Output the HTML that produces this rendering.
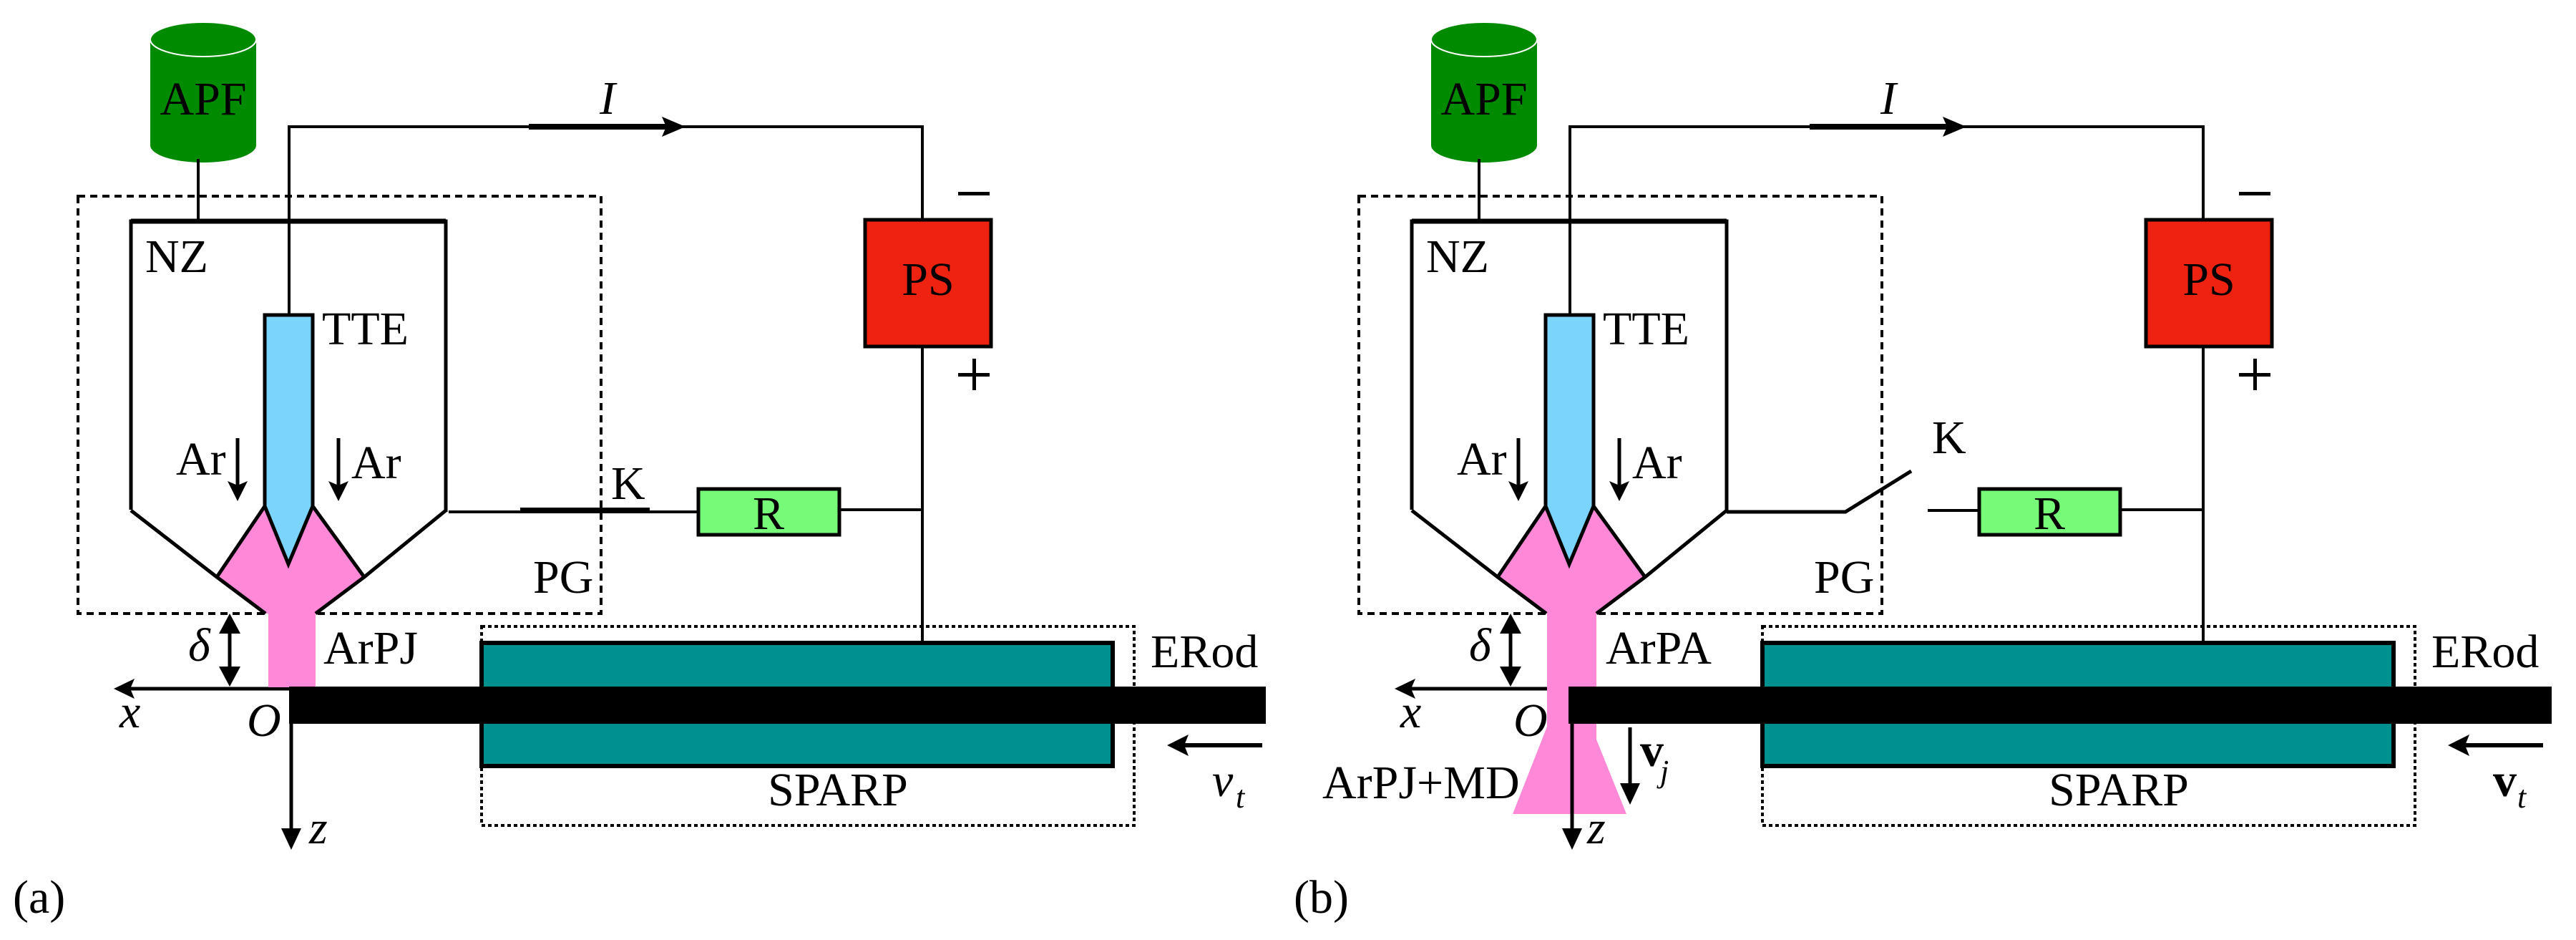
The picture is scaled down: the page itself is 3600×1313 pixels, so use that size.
<!DOCTYPE html>
<html><head><meta charset="utf-8"><style>
html,body{margin:0;padding:0;background:#fff;}
svg{display:block;font-family:"Liberation Serif","Times New Roman",serif;}
svg text{font-family:"Liberation Serif","Times New Roman",serif;font-size:66px;fill:#000;}
.i{font-style:italic;}
</style></head><body>
<svg width="3600" height="1313" viewBox="0 0 3600 1313" xmlns="http://www.w3.org/2000/svg" font-family="Liberation Serif, Times New Roman, serif" font-size="66">
<defs>
<g id="common">
  <rect x="210" y="55" width="148" height="148" fill="#008a00"/>
  <ellipse cx="284" cy="203" rx="74" ry="24" fill="#008a00"/>
  <ellipse cx="284" cy="55" rx="74" ry="24" fill="#008a00" stroke="#fff" stroke-width="2"/>
  <text x="284" y="160" text-anchor="middle" font-family="Liberation Serif, serif">APF</text>
  <line x1="277" y1="222" x2="277" y2="309" stroke="#000" stroke-width="4"/>
  <rect x="109" y="274" width="731" height="583" fill="none" stroke="#000" stroke-width="4" stroke-dasharray="10 7"/>
  <polyline points="404,440 404,177 1289,177 1289,307" fill="none" stroke="#000" stroke-width="4"/>
  <line x1="739" y1="177" x2="930" y2="177" stroke="#000" stroke-width="8"/>
  <polygon points="958,177 925,163 931,177 925,191" fill="#000"/>
  <text x="838" y="159" class="i" font-family="Liberation Serif, serif">I</text>
  <polygon points="303,806 370,707 403,788 437,707 509,806 441,857 371,857" fill="#ff88d8"/>
  <polyline points="183,712 183,309 623,309 623,715" fill="none" stroke="#000" stroke-width="5"/>
  <line x1="183" y1="309" x2="623" y2="309" stroke="#000" stroke-width="7"/>
  <polyline points="183,713 303,806 371,857" fill="none" stroke="#000" stroke-width="5"/>
  <polyline points="623,713 509,806 441,857" fill="none" stroke="#000" stroke-width="5"/>
  <line x1="303" y1="806" x2="370" y2="707" stroke="#000" stroke-width="5"/>
  <line x1="509" y1="806" x2="437" y2="707" stroke="#000" stroke-width="5"/>
  <polygon points="370,440 437,440 437,707 403,788 370,707" fill="#7ad4fc" stroke="#000" stroke-width="5"/>
  <text x="450" y="481" font-family="Liberation Serif, serif">TTE</text>
  <text x="203" y="380" font-family="Liberation Serif, serif">NZ</text>
  <line x1="332" y1="612" x2="332" y2="680" stroke="#000" stroke-width="5"/>
  <polygon points="332,700 318,672 332,678 346,672" fill="#000"/>
  <line x1="473" y1="612" x2="473" y2="680" stroke="#000" stroke-width="5"/>
  <polygon points="473,700 459,672 473,678 487,672" fill="#000"/>
  <text x="246" y="663" font-family="Liberation Serif, serif">Ar</text>
  <text x="491" y="668" font-family="Liberation Serif, serif">Ar</text>
  <text x="745" y="828" font-family="Liberation Serif, serif">PG</text>
  <rect x="1209" y="307" width="176" height="177" fill="#ee2211" stroke="#000" stroke-width="5"/>
  <text x="1297" y="412" text-anchor="middle" font-family="Liberation Serif, serif">PS</text>
  <rect x="1339" y="268" width="44" height="5" fill="#000"/>
  <rect x="1339" y="521" width="44" height="5" fill="#000"/>
  <rect x="1359" y="501" width="5" height="44" fill="#000"/>
  <line x1="1289" y1="484" x2="1289" y2="898" stroke="#000" stroke-width="4"/>
  <rect x="976" y="683" width="197" height="64" fill="#77fa77" stroke="#000" stroke-width="5"/>
  <text x="1074" y="739" text-anchor="middle" font-family="Liberation Serif, serif">R</text>
  <line x1="1173" y1="712" x2="1289" y2="712" stroke="#000" stroke-width="4"/>
  <rect x="673" y="875" width="912" height="278" fill="none" stroke="#000" stroke-width="4" stroke-dasharray="5 4"/>
  <rect x="673" y="898" width="882" height="172" fill="#009090" stroke="#000" stroke-width="6"/>
  <text x="1171" y="1125" text-anchor="middle" font-family="Liberation Serif, serif">SPARP</text>
  <text x="1608" y="932" font-family="Liberation Serif, serif">ERod</text>
  <line x1="1655" y1="1041" x2="1764" y2="1041" stroke="#000" stroke-width="6"/>
  <polygon points="1631,1041 1661,1026 1655,1041 1661,1056" fill="#000"/>
  <line x1="321" y1="875" x2="321" y2="941" stroke="#000" stroke-width="5"/>
  <polygon points="321,857 306,885 336,885" fill="#000"/>
  <polygon points="321,959 306,931 336,931" fill="#000"/>
  <text x="263" y="923" class="i" font-family="Liberation Serif, serif">δ</text>
  <line x1="180" y1="962" x2="404" y2="962" stroke="#000" stroke-width="5"/>
  <polygon points="159,962 188,948 182,962 188,976" fill="#000"/>
  <text x="167" y="1016" class="i" font-family="Liberation Serif, serif">x</text>
</g>
</defs>

<use href="#common"/>
<polygon points="375,857 441,857 441,960 375,960" fill="#ff88d8"/>
<text x="452" y="927" font-family="Liberation Serif, serif">ArPJ</text>
<line x1="627" y1="715" x2="976" y2="715" stroke="#000" stroke-width="4"/>
<line x1="727" y1="713" x2="908" y2="713" stroke="#000" stroke-width="8"/>
<text x="854" y="697" font-family="Liberation Serif, serif">K</text>
<rect x="404" y="959" width="1365" height="52" fill="#000"/>
<line x1="407" y1="1011" x2="407" y2="1165" stroke="#000" stroke-width="5"/>
<polygon points="407,1187 393,1157 421,1157" fill="#000"/>
<text x="432" y="1178" class="i" font-family="Liberation Serif, serif">z</text>
<text x="345" y="1028" class="i" font-family="Liberation Serif, serif">O</text>
<text x="1694" y="1112" class="i" font-family="Liberation Serif, serif">v</text>
<text x="1727" y="1128" class="i" font-family="Liberation Serif, serif" style="font-size:44px">t</text>
<text x="18" y="1275" font-family="Liberation Serif, serif">(a)</text>

<g transform="translate(1790,0)"><use href="#common"/></g>
<polygon points="2162,857 2231,857 2231,1033 2273,1137 2114,1137 2162,1015" fill="#ff88d8"/>
<text x="2244" y="927" font-family="Liberation Serif, serif">ArPA</text>
<polyline points="2413,715 2579,715 2671,658" fill="none" stroke="#000" stroke-width="5"/>
<line x1="2694" y1="713" x2="2766" y2="713" stroke="#000" stroke-width="4"/>
<text x="2700" y="633" font-family="Liberation Serif, serif">K</text>
<rect x="2192" y="959" width="1374" height="52" fill="#000"/>
<line x1="2197" y1="1011" x2="2197" y2="1165" stroke="#000" stroke-width="5"/>
<polygon points="2197,1187 2183,1157 2211,1157" fill="#000"/>
<text x="2218" y="1178" class="i" font-family="Liberation Serif, serif">z</text>
<text x="2115" y="1028" class="i" font-family="Liberation Serif, serif">O</text>
<line x1="2278" y1="1016" x2="2278" y2="1100" stroke="#000" stroke-width="5"/>
<polygon points="2278,1124 2264,1094 2292,1094" fill="#000"/>
<text x="2292" y="1070" font-family="Liberation Serif, serif" style="font-weight:bold">v</text>
<text x="2320" y="1092" class="i" font-family="Liberation Serif, serif" style="font-size:44px">j</text>
<text x="1848" y="1115" font-family="Liberation Serif, serif">ArPJ+MD</text>
<text x="3484" y="1112" font-family="Liberation Serif, serif" style="font-weight:bold">v</text>
<text x="3518" y="1128" class="i" font-family="Liberation Serif, serif" style="font-size:44px">t</text>
<text x="1808" y="1275" font-family="Liberation Serif, serif">(b)</text>
</svg>
</body></html>
